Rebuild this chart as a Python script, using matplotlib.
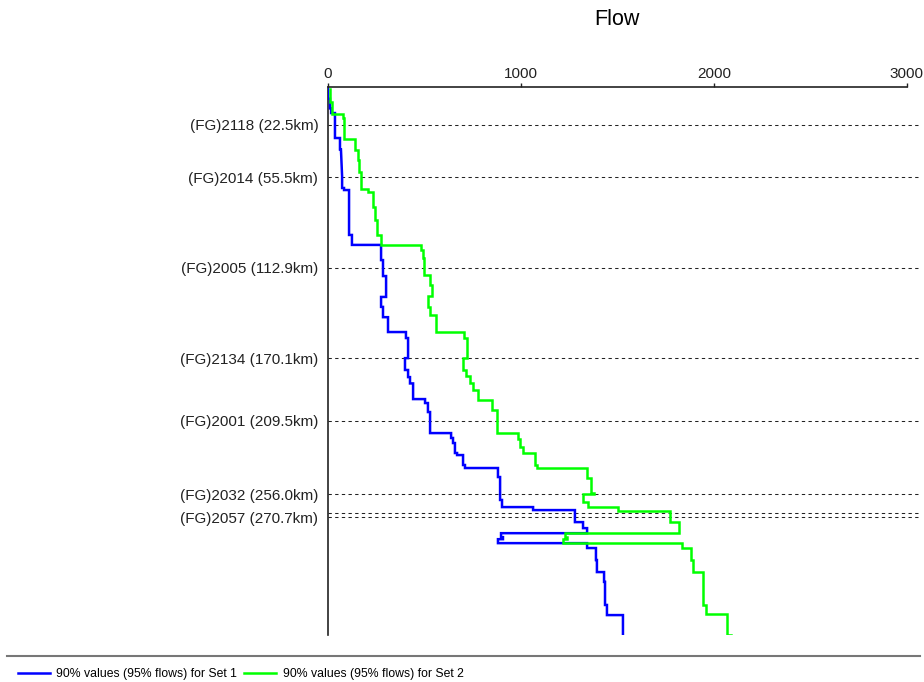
#!/usr/bin/env python

# Long profile of 90% flow values down the river, two data sets

import matplotlib
from matplotlib.backends.backend_agg import \
                 FigureCanvasAgg as FigureCanvas
from matplotlib.figure import Figure
from matplotlib.lines import Line2D
import matplotlib.transforms as mtransforms

# Gauging stations along the river (km downstream)
station_labels=['(FG)2118 (22.5km)','(FG)2014 (55.5km)','(FG)2005 (112.9km)',
                '(FG)2134 (170.1km)','(FG)2001 (209.5km)','(FG)2032 (256.0km)',
                '(FG)2057 (270.7km)']
station_km=[22.5,55.5,112.9,170.1,209.5,256.0,270.7]
# one more reach boundary, no label
extra_km=[268.0]

flow_ticks=[0,1000,2000,3000]

# Set 1 - 90% values (95% flows), step profile (flow, km)
set1_flow=[0,0,10,10,16,16,36,36,62,62,67,73,73,83,83,109,109,124,124,
           275,275,285,285,301,301,275,275,285,285,311,311,404,404,415,
           415,399,399,415,415,425,425,441,441,503,503,518,518,529,529,
           638,638,648,648,658,658,669,669,700,700,710,710,881,881,892,
           892,902,902,1063,1063,1280,1280,1322,1322,1343,1343,897,897,
           907,907,881,881,1343,1343,1389,1389,1394,1394,1431,1431,1436,
           1436,1446,1446,1529,1529]
set1_km=[0,6,6,12,12,15.0,15.0,30.8,30.8,38,38,55,62.4,62.4,63.7,63.7,
         92.1,92.1,98.4,98.4,108,108,118.1,118.1,131.3,131.3,137.6,137.6,
         144.1,144.1,153.5,153.5,157.3,157.3,170.0,170.0,177.5,177.5,182,
         182,186,186,195.9,195.9,198.4,198.4,204.1,204.1,217.4,217.4,220.5,
         220.5,223.7,223.7,230.0,230.0,231.3,231.3,237.6,237.6,239.5,239.5,
         245.2,245.2,259.7,259.7,264.2,264.2,266.1,266.1,273.7,273.7,277.5,
         277.5,280.7,280.7,283.2,283.2,284.5,284.5,287.0,287.0,290.1,290.1,
         297.7,297.7,305.3,305.3,311.5,311.5,326.1,326.1,332.5,332.5,345.1]

# Set 2 - 90% values (95% flows), step profile (flow, km)
set2_flow=[10,10,21,21,78,78,83,83,140,140,156,156,161,161,171,171,207,
           207,233,233,244,244,254,254,275,275,482,482,492,492,498,498,
           529,529,539,539,518,518,529,529,560,560,705,705,721,721,700,
           700,716,716,736,736,752,752,778,778,850,850,876,876,985,985,
           995,995,1011,1011,1073,1073,1083,1083,1343,1343,1363,1363,1379,
           1379,1322,1322,1348,1348,1503,1503,1773,1773,1820,1820,1229,
           1229,1239,1239,1218,1218,1835,1835,1882,1882,1892,1892,1944,
           1944,1960,1960,2068,2068,2089]
set2_km=[0,8,8,15.6,15.6,18.2,18.2,31.4,31.4,38.4,38.4,45,45,52,52,63.1,
         63.1,64.9,64.9,74.4,74.4,82.6,82.6,92.1,92.1,98.4,98.4,101.6,101.6,
         106.6,106.6,117.4,117.4,124,124,130.6,130.6,137.6,137.6,142.8,142.8,
         153.5,153.5,157.3,157.3,170.0,170.0,177.5,177.5,181.5,181.5,185.8,
         185.8,190,190,196.5,196.5,202.9,202.9,217.4,217.4,221.2,221.2,226.2,
         226.2,230.0,230.0,237.6,237.6,239.5,239.5,245.8,245.8,255.3,255.3,
         255.9,255.9,261.0,261.0,264.2,264.2,266.8,266.8,273.7,273.7,280.7,
         280.7,283.2,283.2,284.5,284.5,287.0,287.0,290.1,290.1,297.7,297.7,
         305.3,305.3,326.1,326.1,331.8,331.8,345.1,345.1]

set_labels=['90% values (95% flows) for Set 1',
            '90% values (95% flows) for Set 2']

fig=Figure(figsize=(9.24,6.82),  # Width, Height (inches)
           dpi=100,
           facecolor='white')
canvas=FigureCanvas(fig)
font = {'family' : 'sans-serif',
        'sans-serif' : 'Liberation Sans',
        'weight' : 'normal',
        'size'   : 11}
matplotlib.rc('font', **font)

ax=fig.add_axes([0.355,0.0689,0.6409,0.8035])
ax.set_facecolor('white')

# x-axis (flow) along the top
ax.set_xlim(0,3070)
ax.xaxis.tick_top()
ax.set_xticks(flow_ticks)
ax.set_xticklabels([str(t) for t in flow_ticks])
ax.tick_params(axis='x',direction='out',length=3,width=1,pad=1.5,
               labelsize=11,colors='#222222')
# y-axis (distance downstream), station names as labels
ax.set_ylim(345.1,-1.45)
ax.set_yticks(station_km)
ax.set_yticklabels(station_labels)
ax.tick_params(axis='y',length=0,pad=7,labelsize=11,colors='#222222')

for side in ['right','bottom']:
    ax.spines[side].set_visible(False)
ax.spines['top'].set_bounds(0,3000)
for side in ['top','left']:
    ax.spines[side].set_linewidth(1.2)
    ax.spines[side].set_color('#222222')

# Dashed lines at the stations
for km in station_km+extra_km:
    ax.axhline(km,linestyle=(0,(3.2,3.2)),linewidth=0.75,
               color='#222222',zorder=1)

# The two profiles
l1,=ax.plot(set1_flow,set1_km,color='#0000ff',linewidth=1.8,
            solid_joinstyle='miter',zorder=3)
l2,=ax.plot(set2_flow,set2_km,color='#00ff00',linewidth=1.8,
            solid_joinstyle='miter',zorder=4)

# Title centred over the 0-3000 axis
trans=mtransforms.blended_transform_factory(ax.transData,fig.transFigure)
ax.text(1500,0.972,'Flow',transform=trans,ha='center',va='center',
        fontsize=15.5,color='black')

# Separator and legend at the bottom
fig.add_artist(Line2D([7/924,920/924],[1-656/682,1-656/682],
                      transform=fig.transFigure,color='#777777',
                      linewidth=1.5))
fig.legend([l1,l2],set_labels,loc='center left',
           bbox_to_anchor=(18/924,1-674/682),ncol=2,frameon=False,
           fontsize=8.8,handlelength=2.6,handletextpad=0.55,
           columnspacing=0.55,borderpad=0,borderaxespad=0)

fig.savefig('out.png')
